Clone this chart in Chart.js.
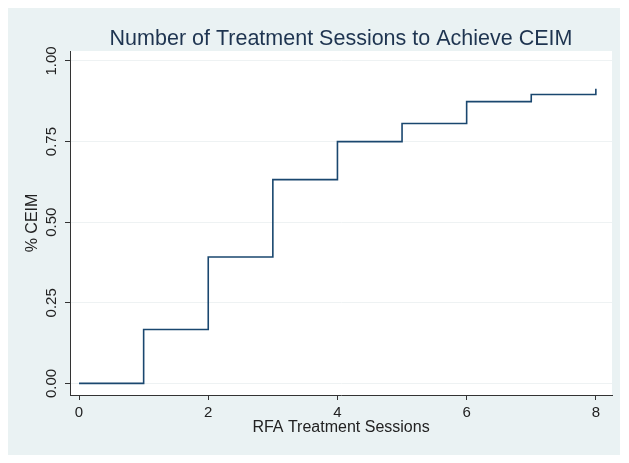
<!DOCTYPE html>
<html>
<head>
<meta charset="utf-8">
<script src="https://cdn.jsdelivr.net/npm/chart.js@4"></script>
<style>
  body { margin: 0; background: #ffffff; }
  #panel { position: absolute; left: 8px; top: 8px; width: 612px; height: 447px; background: #eaf2f3; }
</style>
</head>
<body>
<div id="panel"><canvas id="chart" width="612" height="447"></canvas></div>
<script>
// treatment sessions and cumulative share achieving CEIM
const sessions = [0, 1, 2, 3, 4, 5, 6, 7, 8];
const ceim = [0, 0.167, 0.392, 0.632, 0.75, 0.806, 0.874, 0.896, 0.914];
const xTicks = [0, 2, 4, 6, 8];
const yTicks = [0, 0.25, 0.5, 0.75, 1];

const font = 'Liberation Sans, Arial, sans-serif';
const navy = '#1a476f';

const plotBackground = {
    id: 'plotBackground',
    beforeDraw(chart) {
        const a = chart.chartArea;
        const ctx = chart.ctx;
        ctx.save();
        ctx.fillStyle = '#ffffff';
        ctx.fillRect(a.left, a.top, a.right - a.left, a.bottom - a.top);
        ctx.restore();
    }
};

new Chart(document.getElementById('chart'), {
    type: 'line',
    data: {
        datasets: [{
            data: sessions.map((s, i) => ({ x: s, y: ceim[i] })),
            borderColor: navy,
            borderWidth: 1.6,
            stepped: true,
            pointRadius: 0,
            fill: false
        }]
    },
    options: {
        responsive: false,
        animation: false,
        layout: { padding: { left: 0, right: 8, top: 0, bottom: 0 } },
        plugins: {
            legend: { display: false },
            tooltip: { enabled: false },
            title: {
                display: true,
                text: 'Number of Treatment Sessions to Achieve CEIM',
                fullSize: false,
                color: '#1e3450',
                font: { family: font, size: 21.5, weight: 'normal', lineHeight: 1 },
                padding: { top: 20.25, bottom: 1.25 }
            }
        },
        scales: {
            x: {
                type: 'linear',
                min: -0.14,
                max: 8.25,
                afterBuildTicks: s => { s.ticks = xTicks.map(v => ({ value: v })); },
                afterFit: s => { s.height = 60; },
                grid: { drawOnChartArea: false, tickLength: 5, tickColor: '#333333' },
                border: { color: '#333333', width: 1 },
                ticks: { color: '#222222', font: { family: font, size: 15 }, padding: 4, maxRotation: 0 },
                title: {
                    display: true,
                    text: 'RFA Treatment Sessions',
                    color: '#222222',
                    font: { family: font, size: 16 },
                    padding: { top: 0, bottom: 18 }
                }
            },
            y: {
                min: -0.036,
                max: 1.031,
                afterBuildTicks: s => { s.ticks = yTicks.map(v => ({ value: v })); },
                afterFit: s => { s.width = 62; },
                grid: {
                    color: '#eef2f3',
                    lineWidth: 1,
                    tickLength: 5,
                    tickColor: '#333333'
                },
                border: { color: '#333333', width: 1 },
                ticks: {
                    color: '#222222',
                    font: { family: font, size: 15 },
                    minRotation: 90,
                    maxRotation: 90,
                    crossAlign: 'center',
                    padding: -1.5,
                    callback: v => v.toFixed(2)
                },
                title: {
                    display: true,
                    text: '% CEIM',
                    color: '#222222',
                    font: { family: font, size: 16 },
                    padding: { top: 15, bottom: 0 }
                }
            }
        }
    },
    plugins: [plotBackground]
});
</script>
</body>
</html>
